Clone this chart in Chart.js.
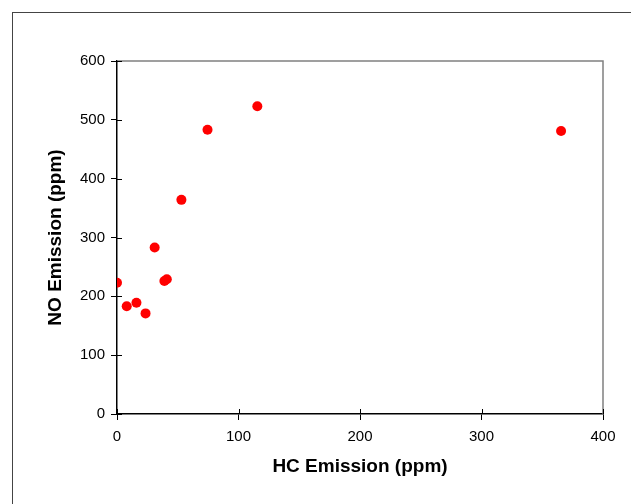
<!DOCTYPE html>
<html>
<head>
<meta charset="utf-8">
<script src="https://cdn.jsdelivr.net/npm/chart.js@4"></script>
<style>
    html, body { margin: 0; padding: 0; background: #fff; overflow: hidden; }
    #wrap { position: relative; width: 631px; height: 504px; }
    #frame { position: absolute; left: 12px; top: 12px; width: 700px; height: 600px; border: 1px solid #444; }
    canvas { position: absolute; left: 0; top: 0; }
</style>
</head>
<body>
<div id="wrap">
    <div id="frame"></div>
    <canvas id="scatter" width="631" height="504"></canvas>
</div>
<script>
const hcEmission = [0, 8, 16, 23.5, 31, 39, 41, 53, 74.5, 115.5, 365.5];
const noEmission = [223, 183, 189, 171, 283, 226, 229, 364, 483, 523, 481];
const xTicks = [0, 100, 200, 300, 400];
const yTicks = [0, 100, 200, 300, 400, 500, 600];

const points = hcEmission.map((x, i) => ({ x, y: noEmission[i] }));
const tickFont = { family: "'Liberation Sans', Arial, sans-serif", size: 15 };
const titleFont = { family: "'Liberation Sans', Arial, sans-serif", size: 19, weight: 'bold' };

// gray top/right frame plus the inner halves of the tick marks
const framePlugin = {
    id: 'frame',
    afterDraw(chart) {
        const { ctx, chartArea: a, scales } = chart;
        ctx.save();
        ctx.strokeStyle = '#808080';
        ctx.lineWidth = 1.5;
        ctx.beginPath();
        ctx.moveTo(a.left, a.top);
        ctx.lineTo(a.right, a.top);
        ctx.lineTo(a.right, a.bottom);
        ctx.stroke();
        ctx.strokeStyle = '#000';
        ctx.lineWidth = 1;
        ctx.beginPath();
        xTicks.forEach(v => {
            const px = Math.round(scales.x.getPixelForValue(v)) + 0.5;
            ctx.moveTo(px, a.bottom);
            ctx.lineTo(px, a.bottom - 5);
        });
        yTicks.forEach(v => {
            const py = Math.round(scales.y.getPixelForValue(v)) + 0.5;
            ctx.moveTo(a.left, py);
            ctx.lineTo(a.left + 5, py);
        });
        ctx.stroke();
        ctx.restore();
    }
};

new Chart(document.getElementById('scatter').getContext('2d'), {
    type: 'scatter',
    data: {
        datasets: [{
            data: points,
            backgroundColor: '#ff0000',
            borderColor: '#ff0000',
            borderWidth: 0,
            pointRadius: 5,
            pointStyle: 'circle'
        }]
    },
    options: {
        responsive: false,
        animation: false,
        layout: { padding: { left: 0, right: 28, top: 61, bottom: 0 } },
        plugins: { legend: { display: false }, tooltip: { enabled: false } },
        scales: {
            x: {
                type: 'linear',
                min: 0,
                max: 400,
                afterBuildTicks: s => { s.ticks = xTicks.map(v => ({ value: v })); },
                afterFit: s => { s.height = 90; },
                ticks: { color: '#000', font: tickFont, padding: 8, maxRotation: 0 },
                grid: { drawOnChartArea: false, tickLength: 6, color: '#000' },
                border: { color: '#000', width: 1.5 },
                title: { display: true, text: 'HC Emission (ppm)', color: '#000', font: titleFont, padding: { top: 0, bottom: 26 } }
            },
            y: {
                type: 'linear',
                min: 0,
                max: 600,
                afterBuildTicks: s => { s.ticks = yTicks.map(v => ({ value: v })); },
                afterFit: s => { s.width = 117; },
                ticks: { color: '#000', font: tickFont, padding: 6 },
                grid: { drawOnChartArea: false, tickLength: 6, color: '#000' },
                border: { color: '#000', width: 1.5 },
                title: { display: true, text: 'NO Emission (ppm)', color: '#000', font: titleFont, padding: { top: 44, bottom: 0 } }
            }
        }
    },
    plugins: [framePlugin]
});
</script>
</body>
</html>
